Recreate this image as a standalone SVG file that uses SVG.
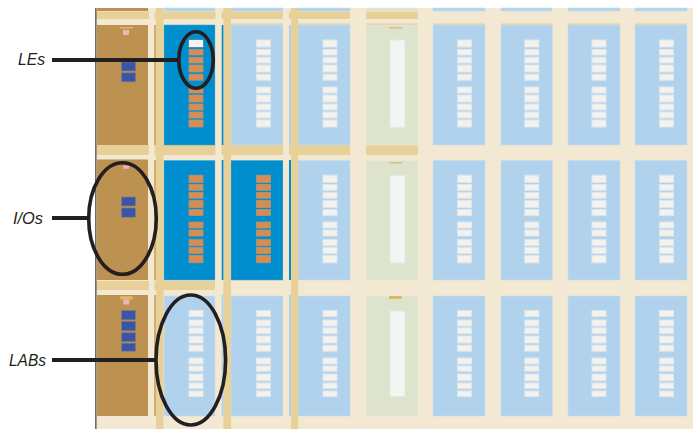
<svg xmlns="http://www.w3.org/2000/svg" width="693" height="429" viewBox="0 0 693 429">
<style>
.io{fill:#bd914f}
.lab{fill:#b1d2ed;stroke:#c6dcec;stroke-width:.6}
.on{fill:#008ecf;stroke:#4fa6c4;stroke-width:.6}
.ram{fill:#dde3cd;stroke:#e6e8d6;stroke-width:.6}
.w{fill:#f3f2ef;stroke:#dfe6ea;stroke-width:1}
.o{fill:#d78d52;stroke:#bb9471;stroke-width:.7}
.b{fill:#3a55a4;stroke:#7d7a8c;stroke-width:.7}
.p{fill:#efb3bb}
.t{fill:#e8d198}
.l{fill:#f3e8d2}
.bar{fill:#f3f5f2;stroke:#e6e9e2;stroke-width:1}
.ring{fill:none;stroke:#231f20;stroke-width:3.6}
.lead{fill:none;stroke:#231f20;stroke-width:4}
text{font-family:"Liberation Sans",Arial,sans-serif;font-style:italic;font-size:17px;fill:#231f20}
</style>
<defs>
<g id="s1"><rect y="40" width="14" height="7"/><rect y="49.5" width="14" height="5.5"/><rect y="57.2" width="14" height="5.8"/><rect y="65" width="14" height="7"/><rect y="74.2" width="14" height="6"/><rect y="87" width="14" height="6"/><rect y="95" width="14" height="7"/><rect y="104" width="14" height="6"/><rect y="112" width="14" height="6"/><rect y="120" width="14" height="7"/></g>
<g id="s2"><rect y="175.2" width="14" height="7.3"/><rect y="184.5" width="14" height="5.8"/><rect y="192.4" width="14" height="5.8"/><rect y="200.4" width="14" height="7.2"/><rect y="209.5" width="14" height="6"/><rect y="222" width="14" height="6"/><rect y="230" width="14" height="6"/><rect y="239.5" width="14" height="6.3"/><rect y="247.5" width="14" height="6"/><rect y="255.4" width="14" height="7.4"/></g>
<g id="s3"><rect y="310.5" width="14" height="6"/><rect y="320" width="14" height="6"/><rect y="327.8" width="14" height="5.8"/><rect y="336" width="14" height="7"/><rect y="345.2" width="14" height="6"/><rect y="358" width="14" height="6"/><rect y="366" width="14" height="5.2"/><rect y="374" width="14" height="6.8"/><rect y="383" width="14" height="5.6"/><rect y="391" width="14" height="5.6"/></g>
</defs>
<rect x="96" y="8" width="597" height="421" class="l"/>
<g id="top-row">
<rect x="97" y="8" width="51" height="3" class="io"/>
<rect x="164" y="8" width="51" height="3" class="lab"/><rect x="231" y="8" width="52" height="3" class="lab"/><rect x="298" y="8" width="52" height="3" class="lab"/><rect x="366" y="8" width="52" height="3" class="ram"/><rect x="433" y="8" width="52" height="3" class="lab"/><rect x="501" y="8" width="51" height="3" class="lab"/><rect x="568" y="8" width="52" height="3" class="lab"/><rect x="635" y="8" width="52" height="3" class="lab"/>
</g>
<g id="routing-horizontal">
<rect x="96" y="11.5" width="254" height="7.5" class="t"/><rect x="366" y="11.5" width="52" height="7.5" class="t"/>
<rect x="96" y="145" width="254" height="10" class="t"/><rect x="366" y="145" width="52" height="10" class="t"/>
<rect x="96" y="281" width="119" height="9" class="t"/>
<rect x="231" y="23.5" width="52" height="1.6" class="t"/><rect x="298" y="23.5" width="52" height="1.6" class="t"/><rect x="366" y="23.5" width="52" height="1.6" class="t"/><rect x="433" y="23.5" width="52" height="1.6" class="t"/><rect x="501" y="23.5" width="51.5" height="1.6" class="t"/><rect x="568" y="23.5" width="52" height="1.6" class="t"/><rect x="635" y="23.5" width="52" height="1.6" class="t"/>
</g>
<g id="io-1"><rect x="97" y="25" width="51" height="120" class="io"/><rect x="120" y="27" width="13" height="1.6" fill="#dcb765"/><rect x="123" y="30" width="6" height="5" class="p"/><rect x="121.5" y="62" width="14" height="9" class="b"/><rect x="121.5" y="72.8" width="14" height="9" class="b"/></g>
<g id="io-2"><rect x="97" y="159.5" width="51" height="120.5" class="io"/><rect x="123" y="165.7" width="6" height="3" class="p"/><rect x="121.5" y="197" width="14" height="9" class="b"/><rect x="121.5" y="208" width="14" height="9.2" class="b"/></g>
<g id="io-3"><rect x="97" y="295" width="51" height="121" class="io"/><rect x="120" y="296.3" width="13" height="3.2" rx="1" fill="#e0b95c"/><rect x="123.3" y="299.4" width="6" height="5" class="p"/><rect x="121.5" y="310.5" width="14" height="9.3" class="b"/><rect x="121.5" y="321.3" width="14" height="9.5" class="b"/><rect x="121.5" y="332.7" width="14" height="9" class="b"/><rect x="121.5" y="343.2" width="14" height="8" class="b"/></g>
<g id="col-1">
<g id="lab-1-1"><rect x="164" y="25" width="51" height="120" class="on"/><use href="#s1" x="189" class="o"/><rect x="189" y="40" width="14" height="7" fill="#f6f5f2"/></g>
<g id="lab-2-1"><rect x="164" y="160.5" width="51" height="119.5" class="on"/><use href="#s2" x="189" class="o"/></g>
<g id="lab-3-1"><rect x="164" y="296" width="51" height="120" class="lab"/><use href="#s3" x="189" class="w"/></g>
</g>
<g id="col-2">
<g id="lab-1-2"><rect x="231" y="25" width="52" height="120" class="lab"/><use href="#s1" x="256.5" class="w"/></g>
<g id="lab-2-2"><rect x="231" y="160.5" width="52" height="119.5" class="on"/><use href="#s2" x="256.5" class="o"/></g>
<g id="lab-3-2"><rect x="231" y="296" width="52" height="120" class="lab"/><use href="#s3" x="256.5" class="w"/></g>
</g>
<g id="col-3">
<g id="lab-1-3"><rect x="298" y="25" width="52" height="120" class="lab"/><use href="#s1" x="323" class="w"/></g>
<g id="lab-2-3"><rect x="298" y="160.5" width="52" height="119.5" class="lab"/><use href="#s2" x="323" class="w"/></g>
<g id="lab-3-3"><rect x="298" y="296" width="52" height="120" class="lab"/><use href="#s3" x="323" class="w"/></g>
</g>
<g id="ram">
<g id="ram-1"><rect x="366" y="25" width="52" height="120" class="ram"/><rect x="389" y="27" width="13" height="1.6" fill="#dcc27e"/><rect x="390" y="40" width="15" height="87.3" class="bar"/></g>
<g id="ram-2"><rect x="366" y="160.5" width="52" height="119.5" class="ram"/><rect x="389" y="162" width="13" height="1.6" fill="#dcc27e"/><rect x="390" y="175.5" width="15" height="87.5" class="bar"/></g>
<g id="ram-3"><rect x="366" y="296" width="52" height="120" class="ram"/><rect x="389" y="296" width="13" height="3" rx="1" fill="#e0b95c"/><rect x="390" y="311" width="15" height="85.5" class="bar"/></g>
</g>
<g id="col-5"><rect x="433" y="25" width="52" height="120" class="lab"/><use href="#s1" x="457.5" class="w"/><rect x="433" y="160.5" width="52" height="119.5" class="lab"/><use href="#s2" x="457.5" class="w"/><rect x="433" y="296" width="52" height="120" class="lab"/><use href="#s3" x="457.5" class="w"/></g>
<g id="col-6"><rect x="501" y="25" width="51.5" height="120" class="lab"/><use href="#s1" x="524.8" class="w"/><rect x="501" y="160.5" width="51.5" height="119.5" class="lab"/><use href="#s2" x="524.8" class="w"/><rect x="501" y="296" width="51.5" height="120" class="lab"/><use href="#s3" x="524.8" class="w"/></g>
<g id="col-7"><rect x="568" y="25" width="52" height="120" class="lab"/><use href="#s1" x="592" class="w"/><rect x="568" y="160.5" width="52" height="119.5" class="lab"/><use href="#s2" x="592" class="w"/><rect x="568" y="296" width="52" height="120" class="lab"/><use href="#s3" x="592" class="w"/></g>
<g id="col-8"><rect x="635" y="25" width="52" height="120" class="lab"/><use href="#s1" x="659.5" class="w"/><rect x="635" y="160.5" width="52" height="119.5" class="lab"/><use href="#s2" x="659.5" class="w"/><rect x="635" y="296" width="52" height="120" class="lab"/><use href="#s3" x="659.5" class="w"/></g>
<g id="routing-vertical">
<rect x="149" y="8" width="5.5" height="421" class="l"/>
<rect x="154" y="25" width="2" height="120" fill="#d2ae6c"/><rect x="154" y="160" width="2" height="120" fill="#d2ae6c"/><rect x="154" y="295" width="2" height="121" fill="#d2ae6c"/>
<rect x="156" y="8" width="7.5" height="421" class="t"/>
<rect x="215.5" y="8" width="6" height="421" class="l"/>
<rect x="223.3" y="8" width="7.7" height="421" class="t"/>
<rect x="283" y="8" width="6" height="421" class="l"/>
<rect x="291" y="8" width="7.2" height="421" class="t"/>
</g>
<g id="slivers">
<rect x="221.7" y="25" width="1.7" height="120" fill="#008ecf"/><rect x="221.7" y="160" width="1.7" height="120" fill="#008ecf"/><rect x="221.7" y="295" width="1.7" height="121" fill="#b1d2ed"/>
<rect x="289" y="25" width="2" height="120" fill="#b1d2ed"/><rect x="289" y="160" width="2" height="120" fill="#008ecf"/><rect x="289" y="295" width="2" height="121" fill="#b1d2ed"/>
</g>
<rect id="edge" x="95" y="8" width="1.6" height="421" fill="#6d6d6d"/>
<g id="connectors">
<path class="lead" d="M52 60H178"/>
<path class="lead" d="M52 218H88"/>
<path class="lead" d="M52 360H156"/>
</g>
<g id="les-ring"><ellipse class="ring" cx="196" cy="60" rx="17.2" ry="28.3"/><text x="18" y="65" textLength="27" lengthAdjust="spacingAndGlyphs">LEs</text></g>
<g id="ios-ring"><ellipse class="ring" cx="122.5" cy="218.5" rx="33.8" ry="55.8"/><text x="13" y="224" textLength="30" lengthAdjust="spacingAndGlyphs">I/Os</text></g>
<g id="labs-ring"><ellipse class="ring" cx="190.8" cy="360" rx="34.8" ry="65"/><text x="9" y="366" textLength="37" lengthAdjust="spacingAndGlyphs">LABs</text></g>
</svg>
